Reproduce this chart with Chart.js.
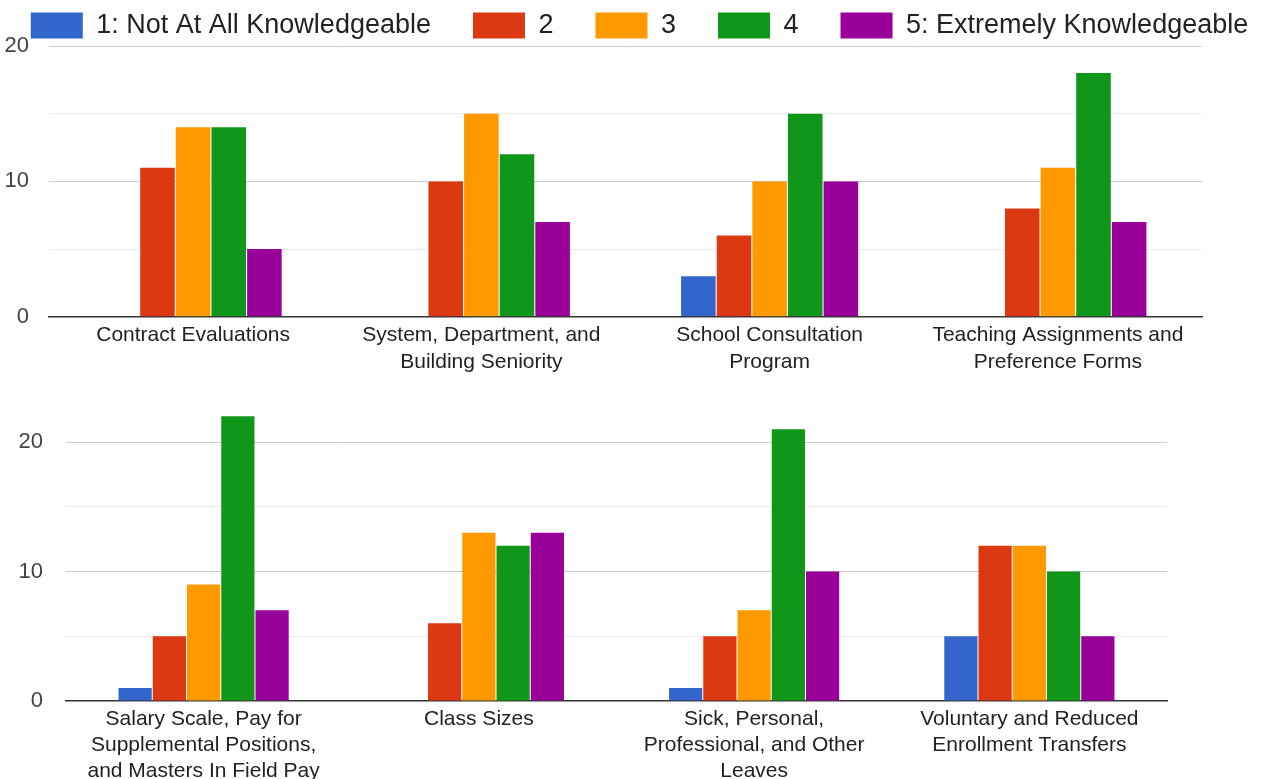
<!DOCTYPE html>
<html>
<head>
<meta charset="utf-8">
<script src="https://cdn.jsdelivr.net/npm/chart.js@4.4.1/dist/chart.umd.min.js"></script>
<style>
  html, body { margin: 0; padding: 0; background: #fff; overflow: hidden; width: 1267px; height: 779px; }
  #topBox { position: absolute; left: -50px; top: -30px; width: 1367px; height: 411px; }
  #botBox { position: absolute; left: 0; top: 375px; width: 1267px; height: 414px; }
</style>
</head>
<body>
<div id="topBox"><canvas id="graphTop"></canvas></div>
<div id="botBox"><canvas id="graphBottom"></canvas></div>
<script>
// legende
const seriesNames = ["1: Not At All Knowledgeable", "2", "3", "4", "5: Extremely Knowledgeable"];
const seriesColors = ["#3366cc", "#dc3912", "#ff9900", "#109618", "#990099"];

// graphique du haut
const topCategories = [
  "Contract Evaluations",
  ["System, Department, and", "Building Seniority"],
  ["School Consultation", "Program"],
  ["Teaching Assignments and", "Preference Forms"]
];
const topS1 = [0, 0, 3, 0];
const topS2 = [11, 10, 6, 8];
const topS3 = [14, 15, 10, 11];
const topS4 = [14, 12, 15, 18];
const topS5 = [5, 7, 10, 7];

// graphique du bas
const botCategories = [
  ["Salary Scale, Pay for", "Supplemental Positions,", "and Masters In Field Pay"],
  "Class Sizes",
  ["Sick, Personal,", "Professional, and Other", "Leaves"],
  ["Voluntary and Reduced", "Enrollment Transfers"]
];
const botS1 = [1, 0, 1, 5];
const botS2 = [5, 6, 5, 12];
const botS3 = [9, 13, 7, 12];
const botS4 = [22, 12, 21, 10];
const botS5 = [7, 13, 10, 5];

const yTicks = [0, 10, 20];

Chart.defaults.font.family = "Arial, 'Liberation Sans', sans-serif";
Chart.defaults.animation = false;

function buildDatasets(series, catPct) {
  return series.map((vals, i) => ({
    label: seriesNames[i],
    data: vals,
    backgroundColor: seriesColors[i],
    borderWidth: 0,
    barPercentage: 0.97,
    categoryPercentage: catPct
  }));
}

function yScale(max, width, pad) {
  return {
    min: 0,
    max: max,
    ticks: {
      stepSize: 5,
      includeBounds: false,
      padding: pad,
      color: "#444",
      font: { size: 22 },
      callback: v => (yTicks.includes(v) ? v : "")
    },
    grid: {
      drawTicks: false,
      color: c => (c.tick.value === 0 ? "rgba(0,0,0,0)" : (c.tick.value % 10 === 0 ? "#cccccc" : "#ebebeb"))
    },
    border: { display: false },
    afterFit: s => { s.width = width; }
  };
}

function xScale(pad, lh) {
  return {
    grid: { display: false, drawTicks: false },
    border: { color: "#333", width: 1.5 },
    ticks: {
      padding: pad,
      color: "#222",
      autoSkip: false,
      maxRotation: 0,
      minRotation: 0,
      font: { size: 21, lineHeight: lh }
    }
  };
}

// on reduit un peu la hauteur de la legende
const legendTrim = {
  id: "legendTrim",
  afterInit(chart) {
    if (!chart.legend) return;
    const fit = chart.legend.fit;
    chart.legend.fit = function () { fit.call(this); this.height -= 3; };
  }
};

new Chart(document.getElementById("graphTop"), {
  type: "bar",
  data: {
    labels: topCategories,
    datasets: buildDatasets([topS1, topS2, topS3, topS4, topS5], 0.618)
  },
  options: {
    responsive: true,
    maintainAspectRatio: false,
    layout: { padding: { left: 20, right: 8, top: 0, bottom: 0 } },
    plugins: {
      legend: {
        position: "top",
        labels: {
          boxWidth: 52,
          boxHeight: 26,
          padding: 42,
          color: "#222",
          font: { size: 27 }
        }
      },
      tooltip: { enabled: false }
    },
    scales: {
      x: xScale(5, 1.29),
      y: yScale(20, 79, 20),
      yR: {
        position: "right",
        grid: { display: false },
        border: { display: false },
        ticks: { display: false },
        afterFit: s => { s.width = 107; }
      }
    }
  },
  plugins: [legendTrim]
});

new Chart(document.getElementById("graphBottom"), {
  type: "bar",
  data: {
    labels: botCategories,
    datasets: buildDatasets([botS1, botS2, botS3, botS4, botS5], 0.622)
  },
  options: {
    responsive: true,
    maintainAspectRatio: false,
    layout: { padding: { left: 0, right: 100, top: 20, bottom: 0 } },
    plugins: {
      legend: { display: false },
      tooltip: { enabled: false }
    },
    scales: {
      x: xScale(5, 1.24),
      y: yScale(22.4, 66, 23)
    }
  }
});
</script>
</body>
</html>
